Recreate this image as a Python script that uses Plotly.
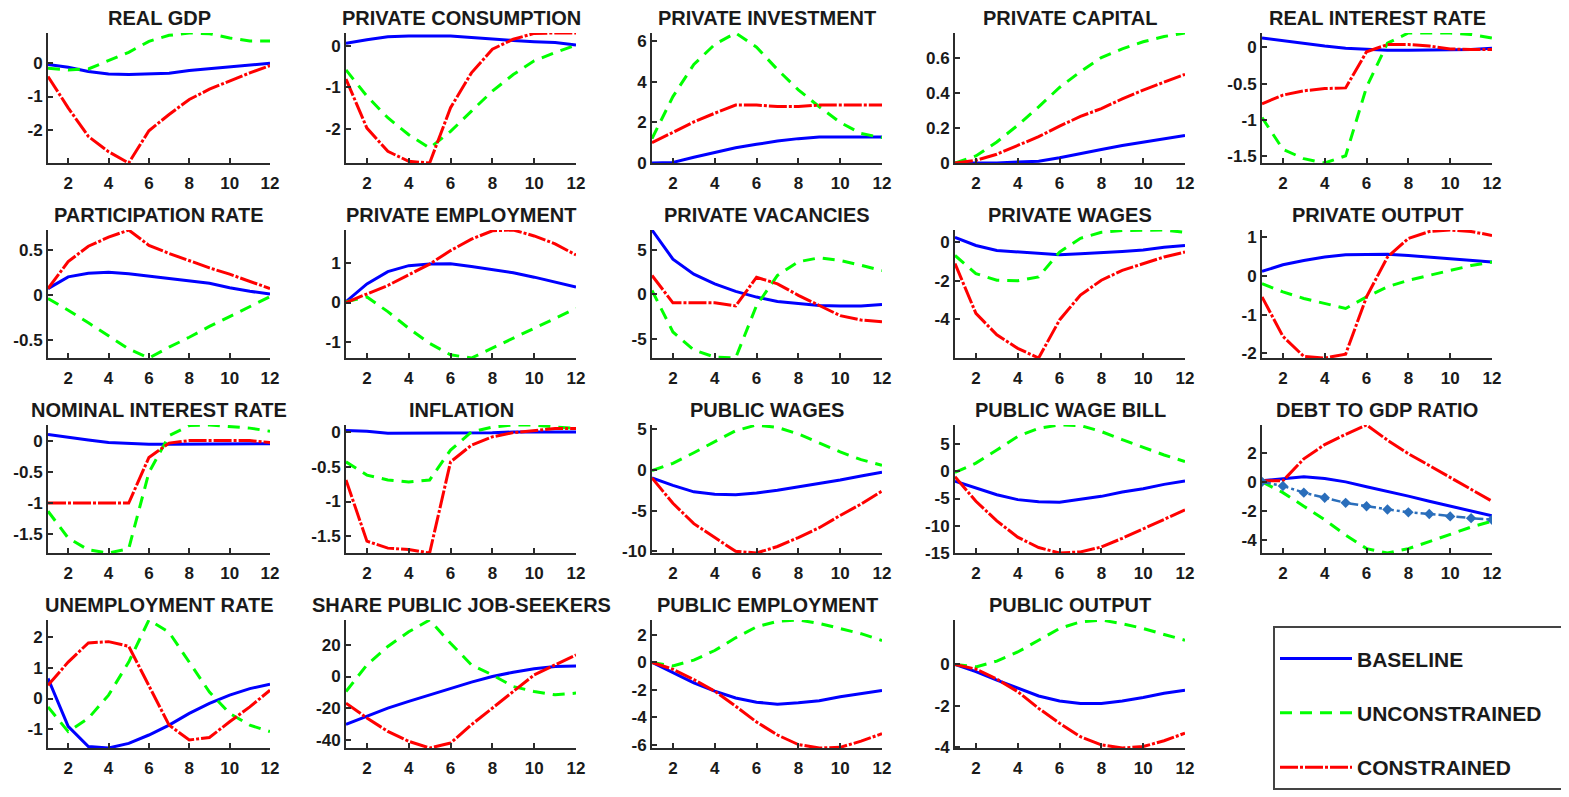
import plotly.graph_objects as go

# ---------------- DATA ----------------
periods = list(range(1, 13))
x_tick_vals = [2, 4, 6, 8, 10, 12]
x_tick_text = ["2", "4", "6", "8", "10", "12"]

titles = ["REAL GDP", "PRIVATE CONSUMPTION", "PRIVATE INVESTMENT", "PRIVATE CAPITAL", "REAL INTEREST RATE",
          "PARTICIPATION RATE", "PRIVATE EMPLOYMENT", "PRIVATE VACANCIES", "PRIVATE WAGES", "PRIVATE OUTPUT",
          "NOMINAL INTEREST RATE", "INFLATION", "PUBLIC WAGES", "PUBLIC WAGE BILL", "DEBT TO GDP RATIO",
          "UNEMPLOYMENT RATE", "SHARE PUBLIC JOB-SEEKERS", "PUBLIC EMPLOYMENT", "PUBLIC OUTPUT"]

series_names = ["BASELINE", "UNCONSTRAINED", "CONSTRAINED"]

gdp_base = [-0.04, -0.12, -0.25, -0.32, -0.34, -0.33, -0.30, -0.22, -0.17, -0.12, -0.06, 0.0]
gdp_unc = [-0.15, -0.20, -0.17, 0.08, 0.33, 0.66, 0.84, 0.91, 0.89, 0.76, 0.67, 0.67]
gdp_con = [-0.40, -1.34, -2.20, -2.66, -3.00, -2.03, -1.54, -1.09, -0.78, -0.53, -0.29, -0.07]

cons_base = [0.06, 0.15, 0.22, 0.24, 0.24, 0.24, 0.20, 0.16, 0.13, 0.10, 0.08, 0.02]
cons_unc = [-0.58, -1.21, -1.73, -2.14, -2.46, -2.06, -1.57, -1.09, -0.69, -0.36, -0.16, 0.02]
cons_con = [-0.80, -1.98, -2.54, -2.78, -2.82, -1.49, -0.65, -0.08, 0.16, 0.30, 0.31, 0.31]

inv_base = [0.0, 0.03, 0.28, 0.53, 0.75, 0.92, 1.08, 1.20, 1.28, 1.28, 1.28, 1.28]
inv_unc = [1.20, 3.27, 4.85, 5.84, 6.40, 5.70, 4.60, 3.60, 2.77, 2.00, 1.45, 1.25]
inv_con = [1.00, 1.53, 2.02, 2.45, 2.85, 2.85, 2.78, 2.78, 2.85, 2.85, 2.85, 2.85]

cap_base = [0.0, 0.0, 0.0, 0.005, 0.01, 0.03, 0.055, 0.077, 0.10, 0.12, 0.14, 0.157]
cap_unc = [0.0, 0.04, 0.12, 0.215, 0.32, 0.43, 0.52, 0.60, 0.65, 0.69, 0.72, 0.74]
cap_con = [0.0, 0.015, 0.05, 0.10, 0.15, 0.21, 0.265, 0.31, 0.365, 0.415, 0.46, 0.505]

rir_base = [0.13, 0.09, 0.05, 0.02, -0.01, -0.03, -0.04, -0.04, -0.04, -0.04, -0.03, -0.01]
rir_unc = [-0.97, -1.41, -1.54, -1.60, -1.50, -0.55, 0.06, 0.20, 0.20, 0.20, 0.18, 0.13]
rir_con = [-0.78, -0.66, -0.60, -0.57, -0.56, -0.06, 0.04, 0.04, 0.02, -0.02, -0.03, -0.03]

part_base = [0.07, 0.20, 0.24, 0.25, 0.235, 0.21, 0.18, 0.155, 0.13, 0.08, 0.04, 0.01]
part_unc = [-0.04, -0.17, -0.31, -0.46, -0.60, -0.70, -0.58, -0.47, -0.35, -0.24, -0.13, -0.02]
part_con = [0.07, 0.37, 0.54, 0.64, 0.72, 0.55, 0.46, 0.38, 0.30, 0.23, 0.15, 0.07]

emp_base = [0.02, 0.47, 0.78, 0.93, 0.97, 0.98, 0.91, 0.83, 0.75, 0.64, 0.52, 0.39]
emp_unc = [0.02, 0.14, -0.23, -0.65, -1.03, -1.32, -1.40, -1.15, -0.90, -0.65, -0.40, -0.15]
emp_con = [0.0, 0.22, 0.43, 0.70, 0.97, 1.31, 1.60, 1.81, 1.83, 1.68, 1.48, 1.20]

vac_base = [7.3, 4.0, 2.3, 1.2, 0.35, -0.3, -0.8, -1.05, -1.25, -1.3, -1.3, -1.15]
vac_unc = [0.45, -4.25, -6.3, -7.1, -7.2, -1.25, 2.15, 3.7, 4.15, 3.85, 3.3, 2.7]
vac_con = [2.15, -0.95, -0.95, -0.95, -1.3, 1.95, 1.2, -0.1, -1.25, -2.4, -2.9, -3.1]

wage_base = [0.25, -0.17, -0.43, -0.50, -0.60, -0.65, -0.60, -0.55, -0.48, -0.40, -0.26, -0.17]
wage_unc = [-0.69, -1.63, -1.97, -2.00, -1.80, -0.51, 0.20, 0.51, 0.60, 0.63, 0.63, 0.51]
wage_con = [-1.11, -3.69, -4.80, -5.50, -6.00, -4.03, -2.74, -1.97, -1.46, -1.11, -0.77, -0.51]

pout_base = [0.12, 0.29, 0.40, 0.49, 0.55, 0.56, 0.56, 0.53, 0.49, 0.44, 0.40, 0.36]
pout_unc = [-0.20, -0.41, -0.58, -0.71, -0.84, -0.54, -0.28, -0.11, 0.02, 0.15, 0.27, 0.36]
pout_con = [-0.54, -1.56, -2.08, -2.12, -2.02, -0.54, 0.49, 0.97, 1.15, 1.19, 1.15, 1.05]

nir_base = [0.10, 0.05, 0.01, -0.03, -0.05, -0.06, -0.06, -0.06, -0.06, -0.06, -0.06, -0.05]
nir_unc = [-1.13, -1.56, -1.75, -1.80, -1.73, -0.51, 0.08, 0.24, 0.25, 0.23, 0.20, 0.15]
nir_con = [-1.0, -1.0, -1.0, -1.0, -1.0, -0.27, -0.04, 0.0, 0.0, 0.0, 0.0, -0.03]

infl_base = [0.02, 0.01, -0.02, -0.02, -0.02, -0.02, -0.02, -0.01, 0.0, 0.0, 0.0, 0.0]
infl_unc = [-0.43, -0.62, -0.69, -0.72, -0.69, -0.26, 0.0, 0.07, 0.10, 0.10, 0.07, 0.05]
infl_con = [-0.69, -1.57, -1.67, -1.69, -1.74, -0.43, -0.19, -0.07, -0.01, 0.02, 0.05, 0.05]

pw_base = [-1.0, -1.9, -2.7, -3.0, -3.05, -2.85, -2.5, -2.1, -1.7, -1.25, -0.75, -0.3]
pw_unc = [-0.1, 0.8, 2.1, 3.5, 4.8, 5.5, 5.2, 4.4, 3.3, 2.2, 1.25, 0.55]
pw_con = [-1.0, -4.1, -6.6, -8.3, -10.0, -10.2, -9.4, -8.3, -7.1, -5.6, -4.2, -2.6]

pwb_base = [-1.8, -3.0, -4.3, -5.2, -5.6, -5.7, -5.2, -4.6, -3.8, -3.2, -2.4, -1.8]
pwb_unc = [-0.2, 1.5, 3.9, 6.4, 7.9, 8.5, 8.4, 7.3, 5.8, 4.4, 3.0, 1.8]
pwb_con = [-1.0, -5.5, -9.1, -12.1, -14.0, -15.0, -14.8, -13.9, -12.3, -10.6, -8.9, -7.1]

debt_base = [0.07, 0.19, 0.35, 0.23, 0.0, -0.33, -0.63, -0.98, -1.33, -1.67, -2.02, -2.33]
debt_unc = [0.0, -0.74, -1.67, -2.60, -3.65, -4.58, -4.88, -4.58, -4.10, -3.58, -3.10, -2.70]
debt_con = [0.07, 0.07, 1.58, 2.56, 3.26, 3.90, 2.86, 1.93, 1.12, 0.30, -0.51, -1.33]
debt_extra = [0.0, -0.28, -0.74, -1.09, -1.44, -1.67, -1.90, -2.09, -2.20, -2.37, -2.49, -2.60]

unemp_base = [0.65, -0.90, -1.55, -1.60, -1.45, -1.18, -0.86, -0.48, -0.16, 0.11, 0.32, 0.46]
unemp_unc = [-0.27, -1.07, -0.64, 0.11, 1.18, 2.54, 2.14, 1.18, 0.21, -0.48, -0.86, -1.07]
unemp_con = [0.43, 1.18, 1.80, 1.84, 1.69, 0.43, -0.86, -1.34, -1.26, -0.75, -0.27, 0.27]

share_base = [-30.0, -25.0, -19.8, -15.6, -11.5, -7.3, -3.5, 0.0, 2.7, 4.8, 6.2, 6.5]
share_unc = [-9.4, 7.3, 18.8, 28.0, 35.4, 20.8, 7.3, 1.0, -6.3, -9.4, -11.5, -10.4]
share_con = [-16.7, -26.0, -34.4, -40.6, -44.8, -41.7, -30.2, -19.8, -9.4, 1.0, 7.3, 13.5]

pemp_base = [0.0, -0.75, -1.5, -2.1, -2.6, -2.9, -3.05, -2.95, -2.8, -2.5, -2.25, -2.05]
pemp_unc = [0.0, -0.25, 0.17, 0.87, 1.8, 2.6, 3.0, 3.1, 2.85, 2.5, 2.1, 1.6]
pemp_con = [0.0, -0.5, -1.25, -2.1, -3.2, -4.35, -5.3, -6.0, -6.25, -6.2, -5.75, -5.2]

puo_base = [0.0, -0.35, -0.76, -1.16, -1.53, -1.77, -1.90, -1.90, -1.77, -1.60, -1.40, -1.25]
puo_unc = [0.0, -0.12, 0.16, 0.60, 1.17, 1.74, 2.06, 2.15, 1.97, 1.74, 1.45, 1.17]
puo_con = [0.0, -0.23, -0.71, -1.32, -2.13, -2.85, -3.50, -3.90, -4.05, -3.98, -3.70, -3.33]

y_tick_vals = [
    [-2, -1, 0], [-2, -1, 0], [0, 2, 4, 6], [0, 0.2, 0.4, 0.6], [-1.5, -1, -0.5, 0],
    [-0.5, 0, 0.5], [-1, 0, 1], [-5, 0, 5], [-4, -2, 0], [-2, -1, 0, 1],
    [-1.5, -1, -0.5, 0], [-1.5, -1, -0.5, 0], [-10, -5, 0, 5], [-15, -10, -5, 0, 5], [-4, -2, 0, 2],
    [-1, 0, 1, 2], [-40, -20, 0, 20], [-6, -4, -2, 0, 2], [-4, -2, 0],
]
y_tick_text = [
    ["-2", "-1", "0"], ["-2", "-1", "0"], ["0", "2", "4", "6"], ["0", "0.2", "0.4", "0.6"], ["-1.5", "-1", "-0.5", "0"],
    ["-0.5", "0", "0.5"], ["-1", "0", "1"], ["-5", "0", "5"], ["-4", "-2", "0"], ["-2", "-1", "0", "1"],
    ["-1.5", "-1", "-0.5", "0"], ["-1.5", "-1", "-0.5", "0"], ["-10", "-5", "0", "5"], ["-15", "-10", "-5", "0", "5"], ["-4", "-2", "0", "2"],
    ["-1", "0", "1", "2"], ["-40", "-20", "0", "20"], ["-6", "-4", "-2", "0", "2"], ["-4", "-2", "0"],
]

panel_series = [
    (gdp_base, gdp_unc, gdp_con), (cons_base, cons_unc, cons_con), (inv_base, inv_unc, inv_con),
    (cap_base, cap_unc, cap_con), (rir_base, rir_unc, rir_con),
    (part_base, part_unc, part_con), (emp_base, emp_unc, emp_con), (vac_base, vac_unc, vac_con),
    (wage_base, wage_unc, wage_con), (pout_base, pout_unc, pout_con),
    (nir_base, nir_unc, nir_con), (infl_base, infl_unc, infl_con), (pw_base, pw_unc, pw_con),
    (pwb_base, pwb_unc, pwb_con), (debt_base, debt_unc, debt_con),
    (unemp_base, unemp_unc, unemp_con), (share_base, share_unc, share_con),
    (pemp_base, pemp_unc, pemp_con), (puo_base, puo_unc, puo_con),
]

# ---------------- STYLE / LAYOUT ----------------
# (the page body adds an 8px offset; positions below are in figure pixels)
W, H = 1569, 797
col_left = [40, 338, 644, 947, 1254]
col_w = [222, 230, 230, 230, 230]
row_top = [25, 222, 417, 612]
row_bot = [155, 350, 545, 740]

FONT = "Liberation Sans, Arial, sans-serif"
AX_COLOR = "#2b2b2b"
styles = [
    dict(color="#0000FF", width=3, dash="solid"),
    dict(color="#00FF00", width=3, dash="12px,8px"),
    dict(color="#FF0000", width=3, dash="18px,2px,3px,2px"),
]

fig = go.Figure()
layout = dict(
    width=W, height=H, margin=dict(l=0, r=0, t=0, b=0, autoexpand=False),
    paper_bgcolor="white", plot_bgcolor="white", showlegend=True,
    font=dict(family=FONT, color="#1a1a1a"),
)
annotations = []

for i, (title, series) in enumerate(zip(titles, panel_series)):
    r, c = divmod(i, 5)
    k = i + 1
    xn = "x" if k == 1 else f"x{k}"
    yn = "y" if k == 1 else f"y{k}"
    for vals, st, nm in zip(series, styles, series_names):
        fig.add_trace(go.Scatter(
            x=periods, y=vals, xaxis=xn, yaxis=yn, mode="lines",
            line=st, name=f"<b>{nm}</b>&nbsp;&nbsp;&nbsp;&nbsp;", legendgroup=nm,
            showlegend=(i == 0), hoverinfo="skip",
        ))
    all_vals = [v for s in series for v in s]
    if title == "DEBT TO GDP RATIO":
        fig.add_trace(go.Scatter(
            x=periods, y=debt_extra, xaxis=xn, yaxis=yn, mode="lines+markers",
            line=dict(color="#2A6EBB", width=2.5, dash="dashdot"),
            marker=dict(symbol="diamond", size=8, color="#2A6EBB"),
            showlegend=False, hoverinfo="skip",
        ))
        all_vals += debt_extra
    ymin, ymax = min(all_vals), max(all_vals)

    x0 = col_left[c] / W
    x1 = (col_left[c] + col_w[c]) / W
    y0 = 1 - row_bot[r] / H
    y1 = 1 - row_top[r] / H
    axis_common = dict(
        showline=True, linecolor=AX_COLOR, linewidth=2, ticks="inside", ticklen=5,
        tickwidth=1.5, tickcolor=AX_COLOR, showgrid=False, zeroline=False,
        tickfont=dict(family=FONT, size=17, color="#1a1a1a", weight="bold"),
        fixedrange=True, automargin=False,
    )
    layout["xaxis" if k == 1 else f"xaxis{k}"] = dict(
        domain=[x0, x1], anchor=yn, range=[1, 12], tickmode="array",
        tickvals=x_tick_vals, ticktext=x_tick_text, ticklabelstandoff=4, **axis_common)
    layout["yaxis" if k == 1 else f"yaxis{k}"] = dict(
        domain=[y0, y1], anchor=xn, range=[ymin, ymax], tickmode="array",
        tickvals=y_tick_vals[i], ticktext=y_tick_text[i], ticklabelstandoff=0, **axis_common)
    annotations.append(dict(
        text=f"<b>{title}</b>", xref="paper", yref="paper",
        x=(x0 + x1) / 2, y=y1, xanchor="center", yanchor="bottom", yshift=2,
        showarrow=False, font=dict(family=FONT, size=20, color="#1a1a1a"),
    ))

layout["annotations"] = annotations
layout["legend"] = dict(
    x=1265 / W, y=1 - 618 / H, xanchor="left", yanchor="top",
    bordercolor="#444444", borderwidth=2, bgcolor="white",
    font=dict(family=FONT, size=21, color="#1a1a1a"),
    tracegroupgap=24, itemwidth=72,
    title=dict(text=" ", font=dict(size=8)),
)
fig.update_layout(**layout)
fig.write_html("out.html")
